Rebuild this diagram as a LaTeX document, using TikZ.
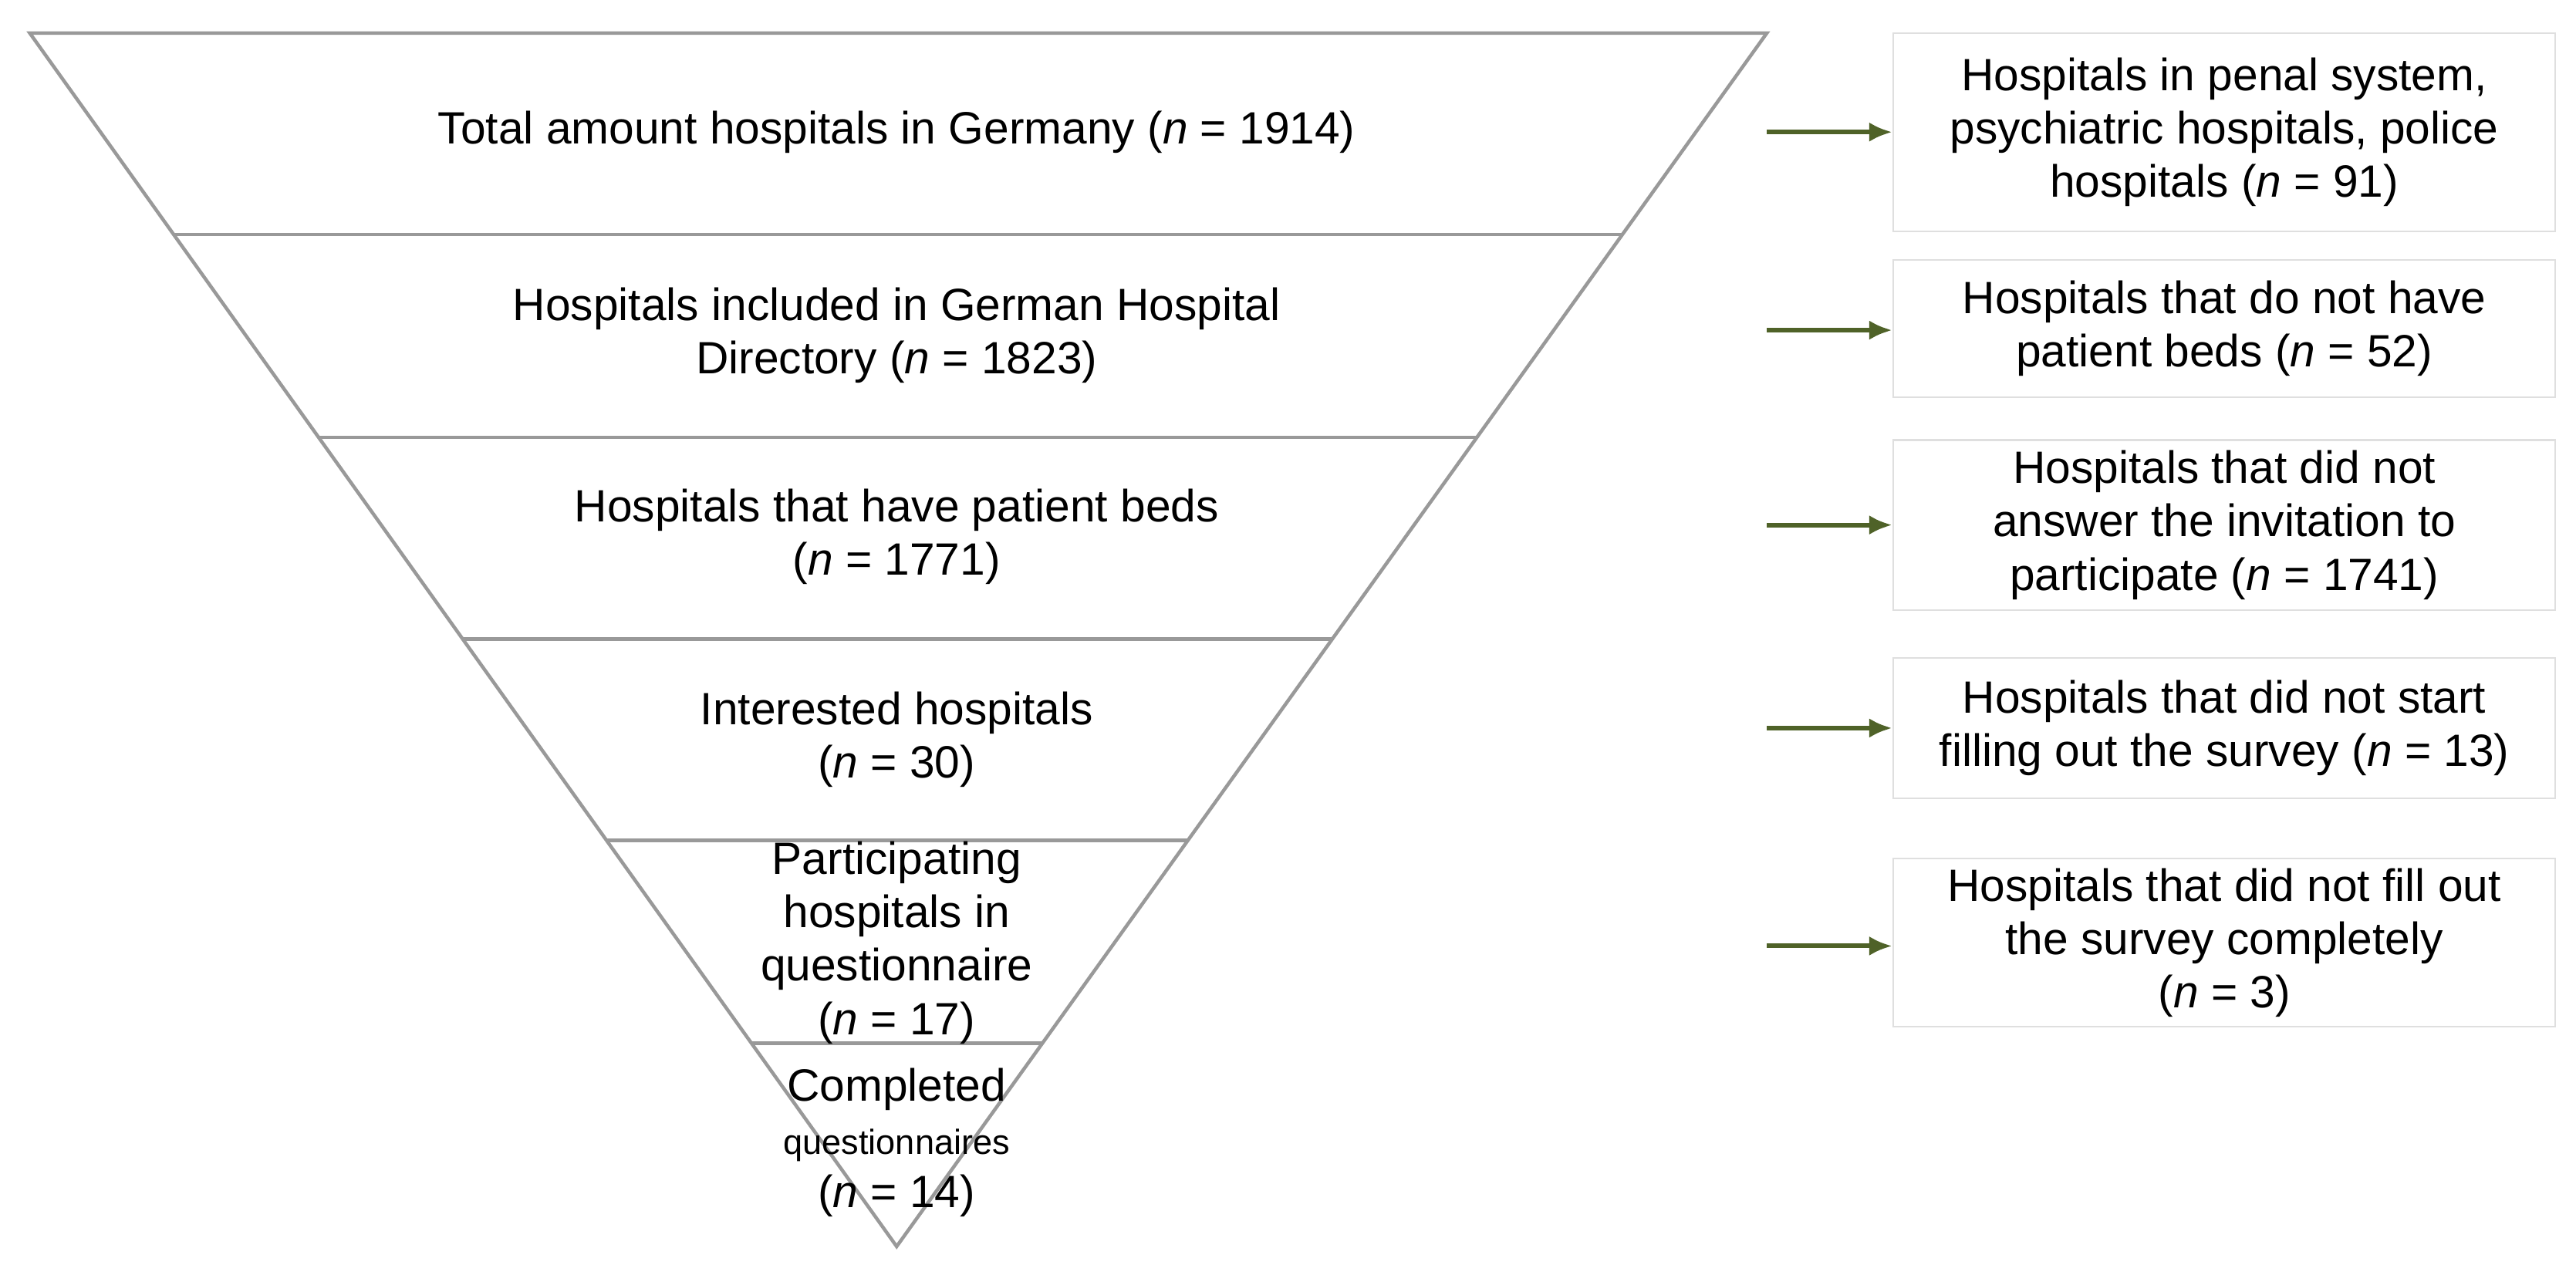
\documentclass[tikz,border=0pt]{standalone}
\usepackage{fontspec}
\setmainfont{Liberation Sans}
\usetikzlibrary{arrows.meta}
\begin{document}
\begin{tikzpicture}[x=0.05cm,y=-0.05cm,
 tri/.style={draw=gray!80,line width=3pt},
 lbl/.style={align=center,font=\fontsize{39}{46}\selectfont},
 box/.style={draw=gray!25,line width=1.5pt,minimum width=401*0.05cm,align=center,font=\fontsize{39}{46}\selectfont,inner sep=0pt},
 arr/.style={draw={rgb,255:red,79;green,98;blue,40},line width=4pt,-{Latex[length=20pt,width=17pt]}}]
\useasboundingbox (0,0) rectangle (1560,772);
\draw[tri] (18,20) -- (1070,20) -- (543,755) -- cycle;
\foreach \y in {142,265,387,509,632}{
 \pgfmathsetmacro\xl{18+(\y-20)/735*525}
 \pgfmathsetmacro\xr{1070-(\y-20)/735*527}
 \draw[tri] (\xl,\y) -- (\xr,\y);}
\node[lbl] (t1) at (543,80) {Total amount hospitals in Germany (\textit{n} = 1914)};
\node[lbl] (t2) at (543,203) {Hospitals included in German Hospital\\Directory (\textit{n} = 1823)};
\node[lbl] (t3) at (543,325) {Hospitals that have patient beds\\(\textit{n} = 1771)};
\node[lbl] (t4) at (543,448) {Interested hospitals\\(\textit{n} = 30)};
\node[lbl] (t5) at (543,571) {Participating\\hospitals in\\questionnaire\\(\textit{n} = 17)};
\node[lbl] (t6) at (543,692) {Completed\\{\fontsize{30}{38}\selectfont questionnaires}\\(\textit{n} = 14)};
\node[box,minimum height=120*0.05cm] (b1) at (1347,80) {Hospitals in penal system,\\psychiatric hospitals, police\\hospitals (\textit{n} = 91)};
\node[box,minimum height=83*0.05cm] (b2) at (1347,199) {Hospitals that do not have\\patient beds (\textit{n} = 52)};
\node[box,minimum height=103*0.05cm] (b3) at (1347,318) {Hospitals that did not\\answer the invitation to\\participate (\textit{n} = 1741)};
\node[box,minimum height=85*0.05cm] (b4) at (1347,441) {Hospitals that did not start\\filling out the survey (\textit{n} = 13)};
\node[box,minimum height=102*0.05cm] (b5) at (1347,571) {Hospitals that did not fill out\\the survey completely\\(\textit{n} = 3)};
\foreach \i/\y in {1/80,2/200,3/318,4/441,5/573}{
 \coordinate (s\i) at (1070,\y);
 \draw[arr] (s\i) -- (b\i.west |- s\i);}
\end{tikzpicture}
\end{document}
